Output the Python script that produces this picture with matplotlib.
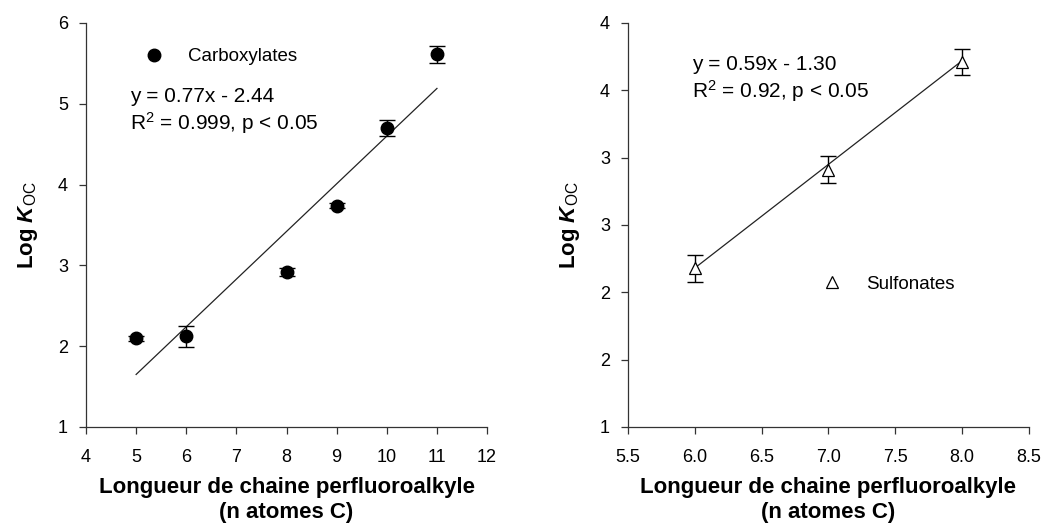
import numpy as np
import matplotlib.pyplot as plt
from matplotlib.ticker import FuncFormatter

plt.rcParams['font.family'] = ['Liberation Sans', 'DejaVu Sans']
plt.rcParams['mathtext.fontset'] = 'custom'
plt.rcParams['mathtext.rm'] = 'Liberation Sans'
plt.rcParams['mathtext.it'] = 'Liberation Sans:italic:bold'
plt.rcParams['mathtext.bf'] = 'Liberation Sans:bold'

# carboxylates (left panel)
carb_n = [5, 6, 8, 9, 10, 11]
carb_logkoc = [2.10, 2.12, 2.92, 3.74, 4.70, 5.61]
carb_err = [0.03, 0.13, 0.05, 0.03, 0.10, 0.10]
carb_fit = (0.59, -1.30)

# sulfonates (right panel)
sulf_n = [6, 7, 8]
sulf_logkoc = [2.18, 2.91, 3.71]
sulf_err = [0.10, 0.10, 0.10]
sulf_fit = (0.77, -2.44)

xlabel = "Longueur de chaine perfluoroalkyle\n(n atomes C)"
ylabel = r"Log $K_{\mathrm{OC}}$"

fig = plt.figure(figsize=(10.5, 5.27), dpi=100)
ax1 = fig.add_axes([0.0819, 0.1898, 0.382, 0.7666])
ax2 = fig.add_axes([0.598, 0.1898, 0.382, 0.7666])

for ax in (ax1, ax2):
    ax.spines['top'].set_visible(False)
    ax.spines['right'].set_visible(False)
    for s in ('left', 'bottom'):
        ax.spines[s].set_linewidth(0.9)
        ax.spines[s].set_color('#333333')
    ax.tick_params(direction='out', length=5, width=0.9, color='#333333',
                   labelsize=13)
    ax.tick_params(axis='x', pad=11)
    ax.tick_params(axis='y', pad=8)
    ax.set_xlabel(xlabel, fontsize=16, fontweight='bold', labelpad=8,
                  linespacing=1.2)
    ax.set_ylabel(ylabel, fontsize=16, fontweight='bold', labelpad=13)

# left: carboxylates
xf = np.array([min(carb_n), max(carb_n)])
ax1.plot(xf, carb_fit[0] * xf + carb_fit[1], color='#222222', lw=0.9)
ax1.errorbar(carb_n, carb_logkoc, yerr=carb_err, fmt='none', ecolor='black',
             elinewidth=1, capsize=6, capthick=1)
ax1.plot(carb_n, carb_logkoc, 'o', color='black', ms=9, label='Carboxylates')
ax1.set_xlim(4, 12)
ax1.set_ylim(1, 6)
ax1.set_xticks(range(4, 13))
ax1.set_yticks(range(1, 7))
ax1.legend(loc='center left', bbox_to_anchor=(0.147, 0.916), frameon=False,
           fontsize=13.5, handlelength=1, handletextpad=1.3, borderpad=0,
           borderaxespad=0)
ax1.text(0.110, 0.817, "y = 0.77x - 2.44", transform=ax1.transAxes,
         fontsize=15, va='center')
ax1.text(0.110, 0.752, r"R$^2$ = 0.999, p < 0.05", transform=ax1.transAxes,
         fontsize=15, va='center')

# right: sulfonates
xf = np.array([min(sulf_n), max(sulf_n)])
ax2.plot(xf, sulf_fit[0] * xf + sulf_fit[1], color='#222222', lw=0.9)
ax2.errorbar(sulf_n, sulf_logkoc, yerr=sulf_err, fmt='none', ecolor='black',
             elinewidth=1, capsize=6, capthick=1)
ax2.plot(sulf_n, sulf_logkoc, '^', mfc='white', mec='black', mew=0.9, ms=9,
         label='Sulfonates')
ax2.set_xlim(5.5, 8.5)
ax2.set_ylim(1, 4)
ax2.set_xticks(np.arange(5.5, 8.51, 0.5))
ax2.set_yticks(np.arange(1, 4.01, 0.5))
ax2.xaxis.set_major_formatter(FuncFormatter(lambda v, p: f"{v:.1f}"))
# integer labels, half values rounded up
ax2.yaxis.set_major_formatter(FuncFormatter(lambda v, p: f"{int(v + 0.5)}"))
ax2.legend(loc='center left', bbox_to_anchor=(0.486, 0.354), frameon=False,
           fontsize=13.5, handlelength=1, handletextpad=1.3, borderpad=0,
           borderaxespad=0)
ax2.text(0.161, 0.896, "y = 0.59x - 1.30", transform=ax2.transAxes,
         fontsize=15, va='center')
ax2.text(0.161, 0.831, r"R$^2$ = 0.92, p < 0.05", transform=ax2.transAxes,
         fontsize=15, va='center')

fig.savefig('out.png', dpi=100)
